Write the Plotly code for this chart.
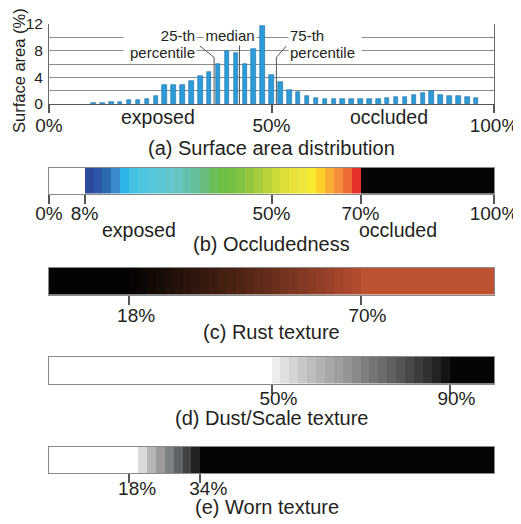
import plotly.graph_objects as go

FONT = "Liberation Sans, Arial, sans-serif"
TXT = "#231f20"

# ---------------- (a) Surface area distribution ----------------
occ_bins = [10, 12, 14, 16, 18, 20, 22, 24, 26, 28, 30, 32, 34, 36, 38, 40, 42, 44, 46, 48,
            50, 52, 54, 56, 58, 60, 62, 64, 66, 68, 70, 72, 74, 76, 78, 80, 82, 84, 86, 88,
            90, 92, 94, 96]
surface_area = [0.15, 0.15, 0.3, 0.35, 0.55, 0.6, 0.8, 1.2, 2.8, 2.9, 2.8, 3.4, 4.25, 4.8, 6.0, 8.0,
                7.7, 6.0, 8.3, 11.75, 4.35, 3.25, 2.05, 1.75, 1.22, 0.88, 0.7, 0.7, 0.7, 0.7,
                0.75, 0.7, 0.75, 0.88, 1.12, 1.12, 1.38, 1.72, 2.02, 1.38, 1.22, 1.22, 1.12, 0.9]
dist_ticks = [0, 50, 100]
dist_ticktext = ["0%", "50%", "100%"]
area_ticks = [0, 4, 8, 12]

pct_labels = ["25-th", "median", "75-th"]
pct_values = [37.1, 42.8, 51.1]

# ---------------- (b) Occludedness ----------------
occl_edges = [0, 8, 10, 12, 14, 16, 18, 20, 22, 24, 26, 28, 30, 32, 34, 36, 38, 40, 42, 44,
              46, 48, 50, 52, 54, 56, 58, 60, 62, 64, 66, 68, 70, 100]
occl_colors = ["#ffffff",
               "#2b4c9b", "#2c56a6", "#2a69ae", "#3b8acb", "#2db4e9", "#43c1e3", "#4ec5df",
               "#56c7da", "#5cc7d4", "#62c6cb", "#66c4bf", "#65c2af", "#63bf99", "#68bc7f",
               "#6cbd5c", "#6ebe46", "#73c045", "#80c341", "#92c73e", "#a5cc3b", "#bad23a",
               "#cdd937", "#dcde3a", "#e7e23c", "#efe53c", "#f6eb30", "#fdd02a", "#f9ae32",
               "#f38d39", "#ef6a36", "#e8312d",
               "#050505"]
occl_ticks = [0, 8, 50, 70, 100]
occl_ticktext = ["0%", "8%", "50%", "70%", "100%"]

# ---------------- (c) Rust texture ----------------
rust_edges = [0, 18, 20, 22, 24, 26, 28, 30, 32, 34, 36, 38, 40, 42, 44, 46, 48, 50, 52, 54,
              56, 58, 60, 62, 64, 66, 68, 70, 100]
rust_colors = ["#040202",
               "#070403", "#0c0604", "#120905", "#180c07", "#1e0f08", "#24120a", "#2a140b",
               "#30170d", "#36190e", "#3c1c10", "#421f11", "#482113", "#4f2415", "#562717",
               "#5d2a19", "#642d1b", "#6b301d", "#72331f", "#7a3621", "#823923", "#8a3c25",
               "#923f27", "#9a4229", "#a2452b", "#aa482d", "#b24c2e",
               "#bd5230"]
rust_ticks = [18, 70]
rust_ticktext = ["18%", "70%"]

# ---------------- (d) Dust/Scale texture ----------------
dust_edges = [0, 50, 52, 54, 56, 58, 60, 62, 64, 66, 68, 70, 72, 74, 76, 78, 80, 82, 84, 86,
              88, 90, 100]
dust_colors = ["#ffffff",
               "#ededed", "#e0e0e0", "#d4d4d4", "#c8c8c9", "#bdbdbe", "#b2b2b4", "#a8a8aa",
               "#9e9ea0", "#949496", "#8a8a8c", "#7f7f81", "#757577", "#6a6b6c", "#5f6061",
               "#545656", "#484a4a", "#3c3d3d", "#303131", "#232424", "#151515",
               "#050505"]
dust_ticks = [50, 90]
dust_ticktext = ["50%", "90%"]

# ---------------- (e) Worn texture ----------------
worn_edges = [0, 20, 22, 24, 26, 28, 30, 32, 34, 100]
worn_colors = ["#ffffff", "#d9d9d9", "#b5b5b7", "#9a9a9c", "#7f8284", "#606466", "#414345",
               "#232323", "#050505"]
worn_ticks = [18, 34]
worn_ticktext = ["18%", "34%"]

# ---------------- layout geometry (page pixels) ----------------
OFF = 8                  # page body margin
W, H = 521 - OFF, 524 - OFF
X0, X1 = 49, 494


def px(p):
    return (p - OFF) / W


def py(p):
    return 1 - (p - OFF) / H


XDOM = [px(X0), px(X1)]

fig = go.Figure()

# bars
fig.add_trace(go.Bar(x=occ_bins, y=surface_area, width=1.0,
                     marker=dict(color="#2b9cd8", line=dict(color="#1b6ea6", width=0.6)),
                     xaxis="x", yaxis="y", hoverinfo="skip"))

# percentile pointer lines (vertical from axis, then slanted toward label)
knee = {"25-th": 7.0, "median": 9.2, "75-th": 7.0}
slant = {"25-th": (-3.2, 8.7), "median": None, "75-th": (2.2, 8.7)}
for name, v in zip(pct_labels, pct_values):
    xs = [v, v]
    ys = [0, knee[name]]
    if slant[name] is not None:
        xs.append(v + slant[name][0])
        ys.append(slant[name][1])
    fig.add_trace(go.Scatter(x=xs, y=ys, mode="lines", line=dict(color="#555555", width=1),
                             xaxis="x", yaxis="y", hoverinfo="skip", showlegend=False))


def strip(edges, colors, axn):
    n = len(colors)
    cs = [[i / (n - 1), c] for i, c in enumerate(colors)]
    fig.add_trace(go.Heatmap(x=edges, y=[0, 1], z=[list(range(n))], colorscale=cs,
                             zmin=0, zmax=n - 1, showscale=False, hoverinfo="skip",
                             xaxis="x" + axn, yaxis="y" + axn))


strip(occl_edges, occl_colors, "2")
strip(rust_edges, rust_colors, "3")
strip(dust_edges, dust_colors, "4")
strip(worn_edges, worn_colors, "5")

tickfont = dict(family=FONT, size=19, color=TXT)


def strip_axes(top, bottom, tv, tt, standoff, shift):
    xa = dict(domain=XDOM, range=[0, 100], showgrid=False, zeroline=False, automargin=False,
              showline=True, mirror=True, linecolor="#8a8a8a", linewidth=1,
              ticks="outside", ticklen=9, tickcolor="#555555", tickwidth=1.5,
              tickvals=tv, ticktext=tt, tickfont=tickfont, ticklabelstandoff=standoff,
              ticklabelshift=shift, fixedrange=True)
    ya = dict(domain=[py(bottom), py(top)], range=[0, 1], showgrid=False, zeroline=False,
              automargin=False, showticklabels=False, ticks="", showline=True, mirror=True,
              linecolor="#8a8a8a", linewidth=1, fixedrange=True)
    return xa, ya


xa2, ya2 = strip_axes(168, 193.5, occl_ticks, occl_ticktext, -6, 0)
xa3, ya3 = strip_axes(268, 294.5, rust_ticks, rust_ticktext, -5, 7)
xa4, ya4 = strip_axes(357, 383.5, dust_ticks, dust_ticktext, -11, 7)
xa5, ya5 = strip_axes(447, 473, worn_ticks, worn_ticktext, -11, 8)

fig.update_layout(
    width=W, height=H, margin=dict(l=0, r=0, t=0, b=0, pad=0, autoexpand=False),
    paper_bgcolor="white", plot_bgcolor="white", showlegend=False, bargap=0,
    font=dict(family=FONT, color=TXT),
    xaxis=dict(domain=XDOM, range=[0, 100], anchor="y", showgrid=False, zeroline=False,
               automargin=False, showline=True, linecolor="#555555", linewidth=1,
               ticks="outside", ticklen=8, tickcolor="#555555", tickwidth=1.5,
               tickvals=dist_ticks, ticktext=dist_ticktext, tickfont=tickfont,
               ticklabelstandoff=-4, fixedrange=True),
    yaxis=dict(domain=[py(104), py(24)], range=[0, 12], anchor="x", automargin=False,
               tickvals=area_ticks, ticks="", showgrid=True, gridcolor="#8c8c8c", gridwidth=1,
               minor=dict(dtick=2, tick0=0, showgrid=True, gridcolor="#8c8c8c", gridwidth=1),
               zeroline=False, showline=True, mirror=True, linecolor="#6a6a6a", linewidth=1,
               tickfont=dict(family=FONT, size=15.5, color=TXT), ticklabelstandoff=2,
               fixedrange=True),
    xaxis2=dict(anchor="y2", **xa2), yaxis2=dict(anchor="x2", **ya2),
    xaxis3=dict(anchor="y3", **xa3), yaxis3=dict(anchor="x3", **ya3),
    xaxis4=dict(anchor="y4", **xa4), yaxis4=dict(anchor="x4", **ya4),
    xaxis5=dict(anchor="y5", **xa5), yaxis5=dict(anchor="x5", **ya5),
)

ann = []


def text(x, ypix, s, size, xref="x", **kw):
    d = dict(x=x, y=py(ypix), xref=xref, yref="paper", text=s, showarrow=False,
             font=dict(family=FONT, size=size, color=TXT), xanchor="center", yanchor="middle")
    d.update(kw)
    ann.append(d)


# y-axis title
text(px(19), 71, "Surface area (%)", 16.5, xref="paper", textangle=-90, borderpad=0)

# percentile labels (white boxes hide grid lines)
box = dict(bgcolor="white", borderpad=1)
text(33.3, 36, "25-th", 15, xanchor="right", width=70, align="right", **box)
text(33.3, 52, "percentile", 15, xanchor="right", width=70, align="right", **box)
text(40.6, 36, "median", 15, xanchor="center", width=50, align="center", **box)
text(53.8, 36, "75-th", 15, xanchor="left", width=70, align="left", **box)
text(53.8, 52, "percentile", 15, xanchor="left", width=70, align="left", **box)

# (a)
text(24.6, 117.5, "exposed", 19.5)
text(76.4, 117, "occluded", 19.5)
text(50, 148, "(a) Surface area distribution", 20)
# (b)
text(20.2, 230, "exposed", 19.5, xref="x2")
text(78.4, 230, "occluded", 19.5, xref="x2")
text(50, 244, "(b) Occludedness", 20, xref="x2")
# (c)
text(50, 332, "(c) Rust texture", 20, xref="x3")
# (d)
text(50, 418, "(d) Dust/Scale texture", 20, xref="x4")
# (e)
text(49, 507, "(e) Worn texture", 20, xref="x5")

fig.update_layout(annotations=ann)
fig.write_html("out.html")
